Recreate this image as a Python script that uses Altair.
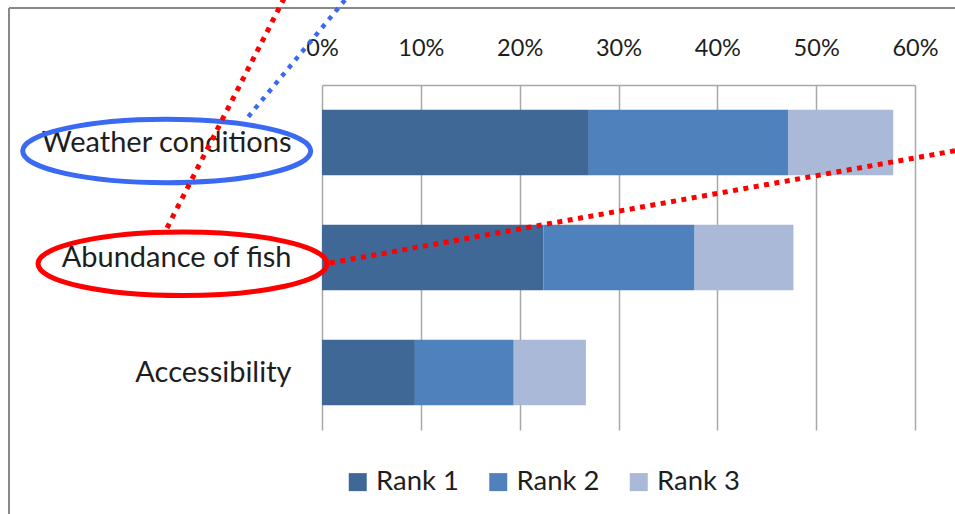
import altair as alt
import pandas as pd

# Survey shares (fraction of respondents) per factor and rank
factors = ["Weather conditions", "Abundance of fish", "Accessibility"]
ranks = ["Rank 1", "Rank 2", "Rank 3"]
rank1 = [0.270, 0.224, 0.094]
rank2 = [0.202, 0.153, 0.100]
rank3 = [0.106, 0.100, 0.073]
x_ticks = [0.0, 0.1, 0.2, 0.3, 0.4, 0.5, 0.6]
rank_colors = ["#3F6897", "#4F81BD", "#AAB9D7"]

rows = []
for i, f in enumerate(factors):
    for j, (r, vals) in enumerate(zip(ranks, [rank1, rank2, rank3])):
        rows.append({"factor": f, "rank": r, "order": j, "share": vals[i]})
df = pd.DataFrame(rows)

FONT = "Lato"
TXT = "#1e1e1e"

bars = alt.Chart(df).mark_bar().encode(
    y=alt.Y(
        "factor:N",
        sort=factors,
        scale=alt.Scale(paddingInner=0.43, paddingOuter=0.215),
        axis=alt.Axis(
            title=None, domain=False, ticks=False, labelFontSize=29,
            labelFont=FONT, labelColor=TXT, labelPadding=31, labelLimit=400,
        ),
    ),
    x=alt.X(
        "share:Q",
        stack="zero",
        scale=alt.Scale(domain=[0, 0.6], nice=False),
        axis=alt.Axis(
            title=None, orient="top", format=".0%", values=x_ticks,
            grid=True, gridColor="#A8A8A8", gridWidth=1.5,
            domain=True, domainColor="#A8A8A8", domainWidth=1.5,
            ticks=False, labelFontSize=23.5, labelFont=FONT, labelColor=TXT,
            labelPadding=30, labelBaseline="alphabetic", labelFlush=False,
        ),
    ),
    color=alt.Color(
        "rank:N",
        scale=alt.Scale(domain=ranks, range=rank_colors),
        legend=alt.Legend(
            title=None, orient="none", direction="horizontal",
            legendX=22, legendY=383, symbolType="square", symbolSize=324,
            symbolStrokeWidth=0, labelFontSize=27.5, labelFont=FONT,
            labelColor=TXT, labelOffset=4.5, columnPadding=25.5, padding=0,
        ),
    ),
    order=alt.Order("order:Q", sort="ascending"),
)

one = pd.DataFrame({"k": [0]})

# outer chart frame (top and left edges)
frame_top = alt.Chart(one).mark_rule(color="#898989", strokeWidth=2).encode(
    x=alt.value(-313), x2=alt.value(640), y=alt.value(-77), y2=alt.value(-77)
)
frame_left = alt.Chart(one).mark_rule(color="#898989", strokeWidth=2).encode(
    x=alt.value(-313), x2=alt.value(-313), y=alt.value(-77), y2=alt.value(440)
)

ellipse = "M -1 0 A 1 0.22 0 1 1 1 0 A 1 0.22 0 1 1 -1 0 Z"

blue_ring = alt.Chart(one).mark_point(
    shape=ellipse, filled=False, stroke="#3A6AF2", strokeWidth=5, opacity=1
).encode(x=alt.value(-155.3), y=alt.value(66), size=alt.value(288 ** 2))

red_ring = alt.Chart(one).mark_point(
    shape=ellipse, filled=False, stroke="#FF0000", strokeWidth=5, opacity=1
).encode(x=alt.value(-139.5), y=alt.value(178.8), size=alt.value(289 ** 2))

blue_link = alt.Chart(one).mark_rule(
    color="#3A6AF2", strokeWidth=4.5, strokeDash=[4.5, 6], strokeCap="butt"
).encode(x=alt.value(-73.7), y=alt.value(31.7), x2=alt.value(25.5), y2=alt.value(-88))

red_link_up = alt.Chart(one).mark_rule(
    color="#FF0000", strokeWidth=5, strokeDash=[5, 6], strokeCap="butt"
).encode(x=alt.value(-155), y=alt.value(143), x2=alt.value(-37.2), y2=alt.value(-88))

red_link_right = alt.Chart(one).mark_rule(
    color="#FF0000", strokeWidth=5, strokeDash=[5, 5.5], strokeCap="butt"
).encode(x=alt.value(8), y=alt.value(178), x2=alt.value(640), y2=alt.value(64.5))

chart = alt.layer(
    frame_top, frame_left, bars, blue_ring, red_ring,
    blue_link, red_link_up, red_link_right,
).properties(
    width=593,
    height=345,
    padding={"left": 322, "top": 85, "right": 40, "bottom": 84},
    autosize=alt.AutoSizeParams(type="none"),
    background="white",
).configure_view(strokeWidth=0)

chart.save("out.html", embed_options={"renderer": "svg", "actions": False})
